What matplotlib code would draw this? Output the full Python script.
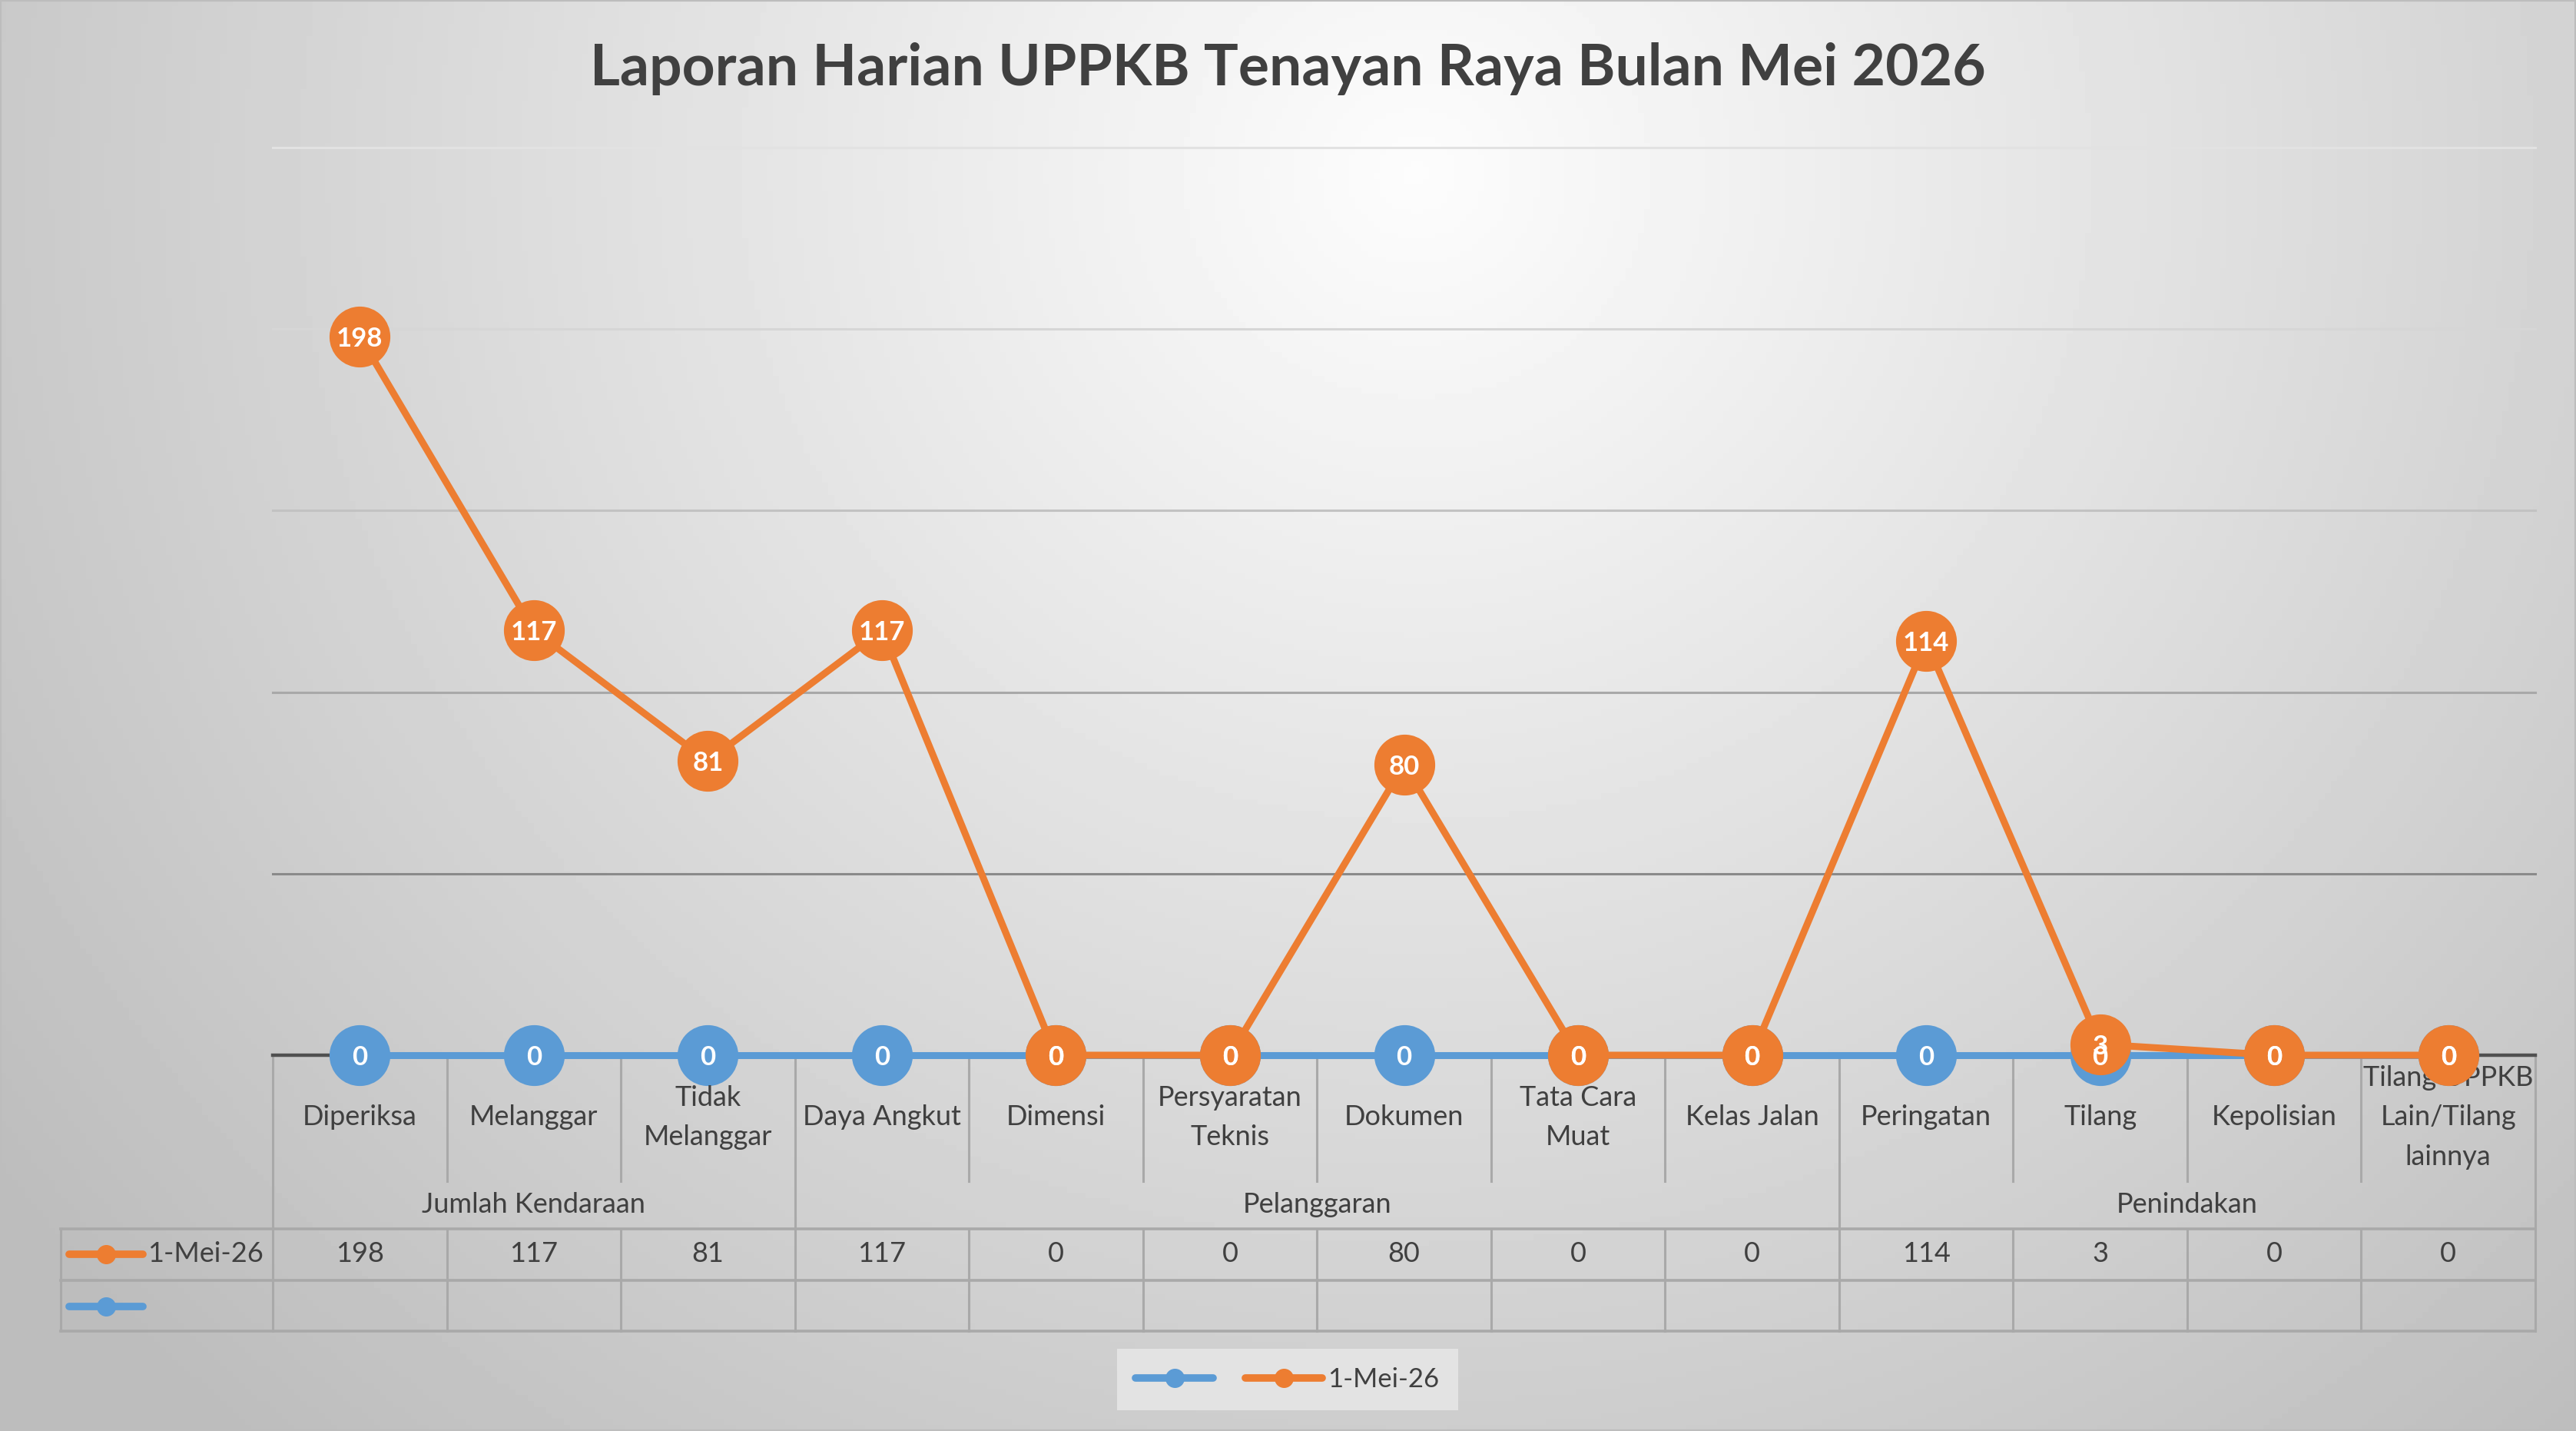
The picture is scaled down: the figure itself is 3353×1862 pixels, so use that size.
import numpy as np
import matplotlib
matplotlib.use("Agg")
import matplotlib.pyplot as plt
import matplotlib.transforms as mtransforms
from matplotlib.lines import Line2D

plt.rcParams["font.family"] = ["Lato", "DejaVu Sans"]

# ---- data -------------------------------------------------------------
TITLE = "Laporan Harian UPPKB Tenayan Raya Bulan Mei 2026"
CATEGORIES = ["Diperiksa", "Melanggar", "Tidak\nMelanggar", "Daya Angkut",
              "Dimensi", "Persyaratan\nTeknis", "Dokumen", "Tata Cara\nMuat",
              "Kelas Jalan", "Peringatan", "Tilang", "Kepolisian",
              "Tilang UPPKB\nLain/Tilang\nlainnya"]
GROUPS = ["Jumlah Kendaraan", "Pelanggaran", "Penindakan"]
GROUP_SIZES = [3, 6, 4]
SERIES_NAME = "1-Mei-26"
MEI_1 = [198, 117, 81, 117, 0, 0, 80, 0, 0, 114, 3, 0, 0]
BLANK_SERIES = [0, 0, 0, 0, 0, 0, 0, 0, 0, 0, 0, 0, 0]
GRID_VALUES = [50, 100, 150, 200, 250]

# ---- style ------------------------------------------------------------
W, H, DPI = 3353, 1862, 100
ORANGE = "#ED7D31"
BLUE = "#5B9BD5"
TEXT = "#404040"
TABLE_LINE = "#a9a9a9"
GRID_COLORS = ["#8a8a8a", "#a8a8a8", "#c2c2c2", "#d6d6d6", "#e2e2e2"]
FS = 26


def fy(px):
    return 1 - px / H


AX_LEFT, AX_RIGHT = 355 / W, 3300 / W
Y_AXIS, Y_LABEL, Y_CAT_END = 1373, 1454, 1537
Y_GROUP, Y_ROW1, Y_ROW1_TXT, Y_ROW2, Y_ROW2_TXT, Y_END = 1567, 1599, 1632, 1666, 1700, 1732
TABLE_LEFT = 79 / W

fig = plt.figure(figsize=(W / DPI, H / DPI), dpi=DPI)

# background gradient
bg = fig.add_axes([0, 0, 1, 1], zorder=-10)
bg.axis("off")
yy, xx = np.mgrid[0:1:240j, 0:1:420j]
r = np.sqrt(((xx - 0.55) / 0.55) ** 2 + ((yy - 0.12) / 0.95) ** 2)
shade = np.clip(0.99 - 0.20 * r, 0.74, 1)
bg.imshow(shade, cmap="gray", vmin=0, vmax=1, extent=[0, 1, 0, 1], aspect="auto")
bg.set_xlim(0, 1)
bg.set_ylim(0, 1)
bg.add_patch(plt.Rectangle((0, 0), 1, 1, fill=False, ec="#bdbdbd", lw=3))

ax = fig.add_axes([AX_LEFT, fy(Y_AXIS), AX_RIGHT - AX_LEFT, fy(192) - fy(Y_AXIS)])
ax.set_facecolor("none")
ax.set_xlim(-0.5, len(CATEGORIES) - 0.5)
ax.set_ylim(0, 250)
for s in ax.spines.values():
    s.set_visible(False)
ax.set_xticks([])
ax.set_yticks([])

for v, c in zip(GRID_VALUES, GRID_COLORS):
    ax.axhline(v, color=c, lw=2.2, zorder=1, clip_on=False)
ax.axhline(0, color="#505050", lw=3.2, zorder=2, clip_on=False)

x = np.arange(len(CATEGORIES))
ax.plot(x, BLANK_SERIES, color=BLUE, lw=6.5, marker="o", ms=56, mec=BLUE,
        zorder=3, clip_on=False)
ax.plot(x, MEI_1, color=ORANGE, lw=6.5, marker="o", ms=56, mec=ORANGE,
        zorder=4, clip_on=False)
for xi, v in zip(x, BLANK_SERIES):
    ax.text(xi, v, str(v), ha="center", va="center_baseline", color="white",
            fontsize=25, fontweight="bold", zorder=6)
for xi, v in zip(x, MEI_1):
    ax.text(xi, v, str(v), ha="center", va="center_baseline", color="white",
            fontsize=25, fontweight="bold", zorder=6)

# ---- data table under the axis ---------------------------------------
trans = mtransforms.blended_transform_factory(ax.transData, fig.transFigure)
group_edges = np.cumsum([0] + GROUP_SIZES) - 0.5
for i in range(len(CATEGORIES) + 1):
    b = i - 0.5
    if b in group_edges:
        ax.plot([b, b], [fy(Y_AXIS), fy(Y_END)], transform=trans, color=TABLE_LINE,
                lw=2.2, clip_on=False, zorder=1)
    else:
        ax.plot([b, b], [fy(Y_AXIS), fy(Y_CAT_END)], transform=trans, color=TABLE_LINE,
                lw=2.2, clip_on=False, zorder=1)
        ax.plot([b, b], [fy(Y_ROW1), fy(Y_END)], transform=trans, color=TABLE_LINE,
                lw=2.2, clip_on=False, zorder=1)

for yl in (Y_ROW1, Y_ROW2, Y_END):
    fig.add_artist(Line2D([TABLE_LEFT, AX_RIGHT], [fy(yl), fy(yl)], color=TABLE_LINE, lw=2.6))
fig.add_artist(Line2D([TABLE_LEFT, TABLE_LEFT], [fy(Y_ROW1), fy(Y_END)], color=TABLE_LINE, lw=2.2))

for xi, lab in zip(x, CATEGORIES):
    ax.text(xi, fy(Y_LABEL), lab, transform=trans, ha="center", va="center",
            fontsize=FS, color=TEXT, linespacing=1.68)
for g, lo, hi in zip(GROUPS, group_edges[:-1], group_edges[1:]):
    ax.text((lo + hi) / 2, fy(Y_GROUP), g, transform=trans, ha="center", va="center",
            fontsize=FS, color=TEXT)
for xi, v in zip(x, MEI_1):
    ax.text(xi, fy(Y_ROW1_TXT), str(v), transform=trans, ha="center", va="center",
            fontsize=FS, color=TEXT)

# row headers (legend keys inside the table)
for yl, col in ((Y_ROW1_TXT, ORANGE), (Y_ROW2_TXT, BLUE)):
    fig.add_artist(Line2D(np.array([90, 138, 186]) / W, [fy(yl)] * 3, color=col, lw=7,
                          marker="o", ms=17, markevery=[1], solid_capstyle="round"))
fig.text(192 / W, fy(Y_ROW1_TXT), SERIES_NAME, ha="left", va="center", fontsize=FS, color=TEXT)

# ---- legend -----------------------------------------------------------
handles = [Line2D([], [], color=BLUE, lw=7, marker="o", ms=17, solid_capstyle="round"),
           Line2D([], [], color=ORANGE, lw=7, marker="o", ms=17, solid_capstyle="round")]
leg = fig.legend(handles, ["", SERIES_NAME], loc="center", bbox_to_anchor=(1676 / W, fy(1795)),
                 ncol=2, frameon=True, fancybox=False, facecolor="#e3e3e3", edgecolor="none",
                 framealpha=1, fontsize=25, handlelength=2.9, handletextpad=0.2,
                 columnspacing=1.0, borderpad=0.7)
for t in leg.get_texts():
    t.set_color(TEXT)

fig.text(0.5, fy(90), TITLE, ha="center", va="center", fontsize=54,
         fontweight="bold", color=TEXT)

fig.savefig("out.png", dpi=DPI)
